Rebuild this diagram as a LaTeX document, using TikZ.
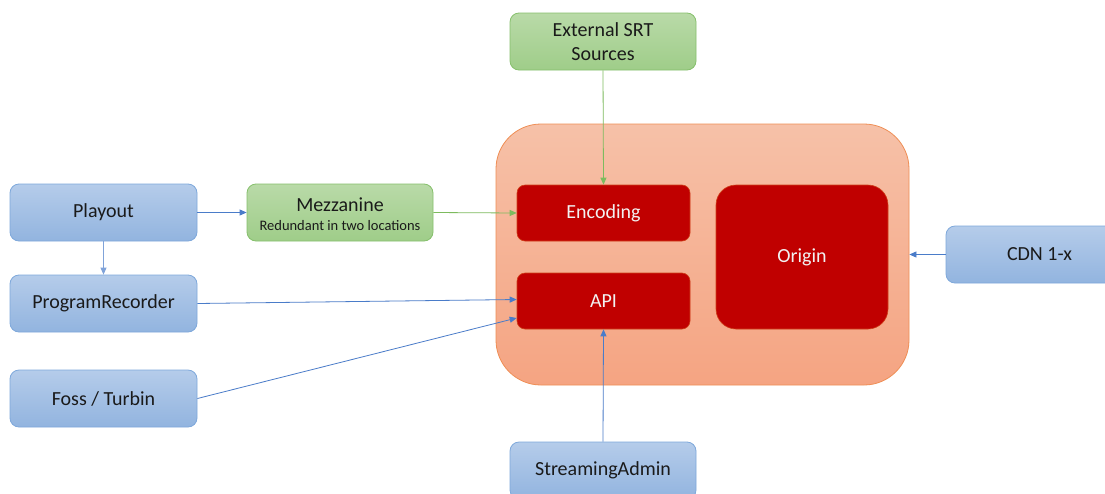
\documentclass[tikz,border=0pt]{standalone}
\usepackage{fontspec}
\setmainfont{Carlito}
\usetikzlibrary{arrows.meta,positioning}

\definecolor{bluetop}{HTML}{B5CCEA}
\definecolor{bluebot}{HTML}{92B4DF}
\definecolor{blueline}{HTML}{7EA8DB}
\definecolor{bluearrow}{HTML}{4A7CC9}
\definecolor{greentop}{HTML}{B9DAA8}
\definecolor{greenbot}{HTML}{9FCD89}
\definecolor{greenline}{HTML}{86C06C}
\definecolor{greenarrow}{HTML}{7DBB5E}
\definecolor{peachtop}{HTML}{F6C1A8}
\definecolor{peachbot}{HTML}{F5A482}
\definecolor{peachline}{HTML}{EF8E55}
\definecolor{darkred}{HTML}{C00000}
\definecolor{redline}{HTML}{D0401A}
\definecolor{txt}{HTML}{1A1A1A}

\tikzset{
  x=1pt, y=-1pt,
  bluebox/.style={draw=blueline, line width=0.8pt, rounded corners=9pt,
    top color=bluetop, bottom color=bluebot, text=txt,
    minimum width=187pt, minimum height=57pt, font=\fontsize{20}{22}\selectfont, inner sep=0pt},
  greenbox/.style={draw=greenline, line width=0.8pt, rounded corners=9pt,
    top color=greentop, bottom color=greenbot, text=txt,
    minimum width=186pt, minimum height=57pt, inner sep=0pt, align=center},
  redbox/.style={draw=redline, line width=0.6pt, fill=darkred, text=white!95!black,
    font=\fontsize{20}{22}\selectfont, inner sep=0pt},
  bluearr/.style={draw=bluearrow, line width=0.8pt, -{Triangle[length=7pt,width=6pt]}},
  bluearrthin/.style={draw=bluearrow!70!white, line width=0.8pt, -{Triangle[length=7pt,width=6pt]}},
  greenarr/.style={draw=greenarrow, line width=0.8pt, -{Triangle[length=7pt,width=6pt]}},
}

\begin{document}
\begin{tikzpicture}
\useasboundingbox (0,0) rectangle (1105,493);
\clip (0,0) rectangle (1105,493);

% background
\fill[white] (0,0) rectangle (1105,493);

% service container
\node[draw=peachline, line width=0.8pt, rounded corners=45pt,
      top color=peachtop, bottom color=peachbot,
      minimum width=413pt, minimum height=261pt, inner sep=0pt] (core) at (702.5,254.5) {};

% inner components
\node[redbox, rounded corners=8pt, minimum width=173pt, minimum height=56pt] (enc) at (603.5,213) {Encoding};
\node[redbox, rounded corners=8pt, minimum width=173pt, minimum height=56pt] (api) at (603.5,301) {API};
\node[redbox, rounded corners=20pt, minimum width=172pt, minimum height=144pt] (origin) at (802,257) {Origin};

% sources and consumers
\node[bluebox] (playout) at (103.5,212.5) {Playout};
\node[bluebox] (recorder) at (103.5,303.5) {ProgramRecorder};
\node[bluebox] (foss) at (103.5,398.5) {Foss / Turbin};
\node[bluebox, minimum width=186pt] (admin) at (603,470.5) {StreamingAdmin};
\node[bluebox, minimum width=187pt] (cdn) at (1039.5,254.5) {CDN 1-x};

% mezzanine: the box, then its title and subtitle on separate lines
\node[greenbox] (mezz) at (340,212.5) {};
\node[text=txt, font=\fontsize{20}{20}\selectfont, inner sep=0pt] (mezztitle) at (340,204.5) {Mezzanine};
\node[text=txt, font=\fontsize{14.5}{15}\selectfont, inner sep=0pt] (mezzsub) at (340,225.5) {Redundant in two locations};

\node[greenbox, font=\fontsize{20}{24}\selectfont] (srt) at (603,41.5) {External SRT\\Sources};

% connections
\draw[bluearr] (playout.east) -- (mezz.west);
\draw[bluearrthin] (playout.south) -- (recorder.north);
\draw[greenarr] (mezz.east) -- (enc.west);
\draw[greenarr] (srt.south) -- (enc.north);
\draw[bluearr] (recorder.east) -- ([yshift=1.5pt]api.west);
\draw[bluearr] (foss.east) -- ([yshift=-17pt]api.west);
\draw[bluearr] (admin.north) -- (api.south);
\draw[bluearr] (cdn.west) -- (core.east);
\end{tikzpicture}
\end{document}
